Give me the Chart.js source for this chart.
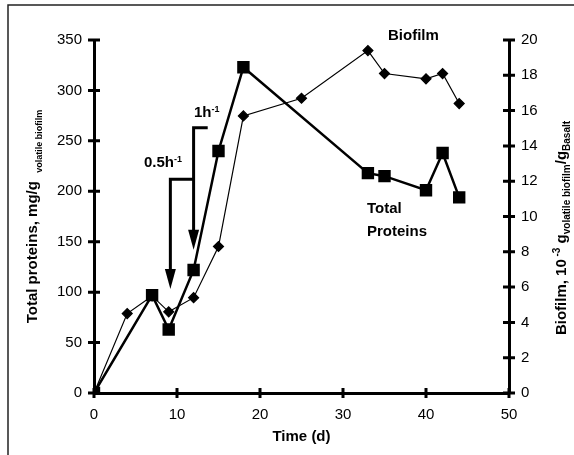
<!DOCTYPE html>
<html>
<head>
<meta charset="utf-8">
<script src="https://cdn.jsdelivr.net/npm/chart.js@4.4.0/dist/chart.umd.min.js"></script>
<style>
html, body { margin: 0; padding: 0; background: #fff; }
</style>
</head>
<body>
<canvas id="myChart" width="574" height="455"></canvas>
<script>
// data
const proteinDays = [0, 7, 9, 12, 15, 18, 33, 35, 40, 42, 44];
const proteinValues = [0, 97, 63, 122, 240, 323, 218, 215, 201, 238, 194];
const biofilmDays = [0, 4, 7, 9, 12, 15, 18, 25, 33, 35, 40, 42, 44];
const biofilmValues = [0, 4.5, 5.5, 4.6, 5.4, 8.3, 15.7, 16.7, 19.4, 18.1, 17.8, 18.1, 16.4];

// dilution rate arrows (x in days, y on protein axis)
const arrowLabels = ['0.5h', '1h'];
const arrowDays = [9.2, 12];
const arrowTops = [212, 263];
const arrowTips = [103, 142];
const arrowHookEnds = [12, 13.7];
const arrowLabelDays = [10.6, 12.05];
const arrowLabelValues = [229, 279];

const FONT = '"Liberation Sans", Arial, sans-serif';

function drawRich(ctx, x, y, parts, rotate) {
    ctx.save();
    ctx.translate(x, y);
    if (rotate) ctx.rotate(-Math.PI / 2);
    ctx.textBaseline = 'alphabetic';
    ctx.textAlign = 'left';
    let total = 0;
    parts.forEach(p => { ctx.font = p.font; total += ctx.measureText(p.text).width; });
    let cx = rotate ? -total / 2 : 0;
    parts.forEach(p => {
        ctx.font = p.font;
        ctx.fillText(p.text, cx, p.dy || 0);
        cx += ctx.measureText(p.text).width;
    });
    ctx.restore();
}

const decorations = {
    id: 'decorations',
    afterDraw(chart) {
        const ctx = chart.ctx;
        const xs = chart.scales.x, ys = chart.scales.y, y2 = chart.scales.y2;
        const area = chart.chartArea;
        ctx.save();
        ctx.fillStyle = '#000';
        ctx.strokeStyle = '#000';

        // frame around the figure
        ctx.lineWidth = 1.5;
        ctx.strokeStyle = '#222';
        ctx.beginPath();
        ctx.moveTo(8, 455);
        ctx.lineTo(8, 5);
        ctx.lineTo(574, 5);
        ctx.stroke();
        ctx.strokeStyle = '#000';

        // tick marks crossing the axes
        ctx.lineWidth = 3;
        ctx.beginPath();
        xs.ticks.forEach(t => {
            const px = xs.getPixelForValue(t.value);
            ctx.moveTo(px, area.bottom - 5);
            ctx.lineTo(px, area.bottom + 5);
        });
        ys.ticks.forEach(t => {
            const py = ys.getPixelForValue(t.value);
            ctx.moveTo(area.left - 6, py);
            ctx.lineTo(area.left + 6, py);
        });
        y2.ticks.forEach(t => {
            const py = y2.getPixelForValue(t.value);
            ctx.moveTo(area.right - 6, py);
            ctx.lineTo(area.right + 6, py);
        });
        ctx.stroke();

        // arrows
        for (let i = 0; i < arrowDays.length; i++) {
            const ax = xs.getPixelForValue(arrowDays[i]);
            const top = ys.getPixelForValue(arrowTops[i]);
            const tip = ys.getPixelForValue(arrowTips[i]);
            const hook = xs.getPixelForValue(arrowHookEnds[i]);
            ctx.lineWidth = 3;
            ctx.beginPath();
            ctx.moveTo(hook, top);
            ctx.lineTo(ax, top);
            ctx.lineTo(ax, tip - 18);
            ctx.stroke();
            ctx.beginPath();
            ctx.moveTo(ax - 5.5, tip - 20);
            ctx.lineTo(ax + 5.5, tip - 20);
            ctx.lineTo(ax, tip);
            ctx.closePath();
            ctx.fill();
        }

        // arrow labels
        const l0 = [{ text: arrowLabels[0], font: 'bold 15px ' + FONT }, { text: '-1', font: 'bold 9px ' + FONT, dy: -5 }];
        ctx.font = 'bold 15px ' + FONT;
        let w0 = ctx.measureText(arrowLabels[0]).width;
        ctx.font = 'bold 9px ' + FONT;
        w0 += ctx.measureText('-1').width;
        drawRich(ctx, xs.getPixelForValue(arrowLabelDays[0]) - w0, ys.getPixelForValue(arrowLabelValues[0]) + 5, l0, false);
        drawRich(ctx, xs.getPixelForValue(arrowLabelDays[1]), ys.getPixelForValue(arrowLabelValues[1]) + 5,
            [{ text: arrowLabels[1], font: 'bold 15px ' + FONT }, { text: '-1', font: 'bold 9px ' + FONT, dy: -5 }], false);

        // series labels
        ctx.font = 'bold 15px ' + FONT;
        ctx.textAlign = 'left';
        ctx.textBaseline = 'alphabetic';
        ctx.fillText('Biofilm', 388, 40);
        ctx.fillText('Total', 367, 213);
        ctx.fillText('Proteins', 367, 236);

        // x axis title
        ctx.textAlign = 'center';
        ctx.fillText('Time (d)', (area.left + area.right) / 2, 441);

        // y axis titles
        drawRich(ctx, 37, (area.top + area.bottom) / 2, [
            { text: 'Total proteins, mg/g  ', font: 'bold 15px ' + FONT },
            { text: 'volatile biofilm', font: 'bold 9px ' + FONT, dy: 5 }
        ], true);
        drawRich(ctx, 566, 228, [
            { text: 'Biofilm, 10', font: 'bold 15px ' + FONT },
            { text: ' -3', font: 'bold 10px ' + FONT, dy: -6 },
            { text: ' g', font: 'bold 15px ' + FONT },
            { text: 'volatile biofilm', font: 'bold 10px ' + FONT, dy: 4 },
            { text: '/g', font: 'bold 15px ' + FONT },
            { text: 'Basalt', font: 'bold 10px ' + FONT, dy: 4 }
        ], true);
        ctx.restore();
    }
};

const ctx = document.getElementById('myChart').getContext('2d');
new Chart(ctx, {
    type: 'line',
    data: {
        datasets: [{
            label: 'Total Proteins',
            data: proteinDays.map((d, i) => ({ x: d, y: proteinValues[i] })),
            yAxisID: 'y',
            borderColor: '#000',
            backgroundColor: '#000',
            borderWidth: 2.5,
            pointStyle: 'rect',
            pointRadius: 7,
            tension: 0
        }, {
            label: 'Biofilm',
            data: biofilmDays.map((d, i) => ({ x: d, y: biofilmValues[i] })),
            yAxisID: 'y2',
            borderColor: '#000',
            backgroundColor: '#000',
            borderWidth: 1.2,
            pointStyle: 'rectRot',
            pointRadius: 5,
            tension: 0
        }]
    },
    options: {
        responsive: false,
        animation: false,
        devicePixelRatio: 1,
        layout: { padding: { top: 40, left: 0, right: 0, bottom: 0 } },
        plugins: { legend: { display: false }, tooltip: { enabled: false } },
        scales: {
            x: {
                type: 'linear', min: 0, max: 50,
                ticks: { stepSize: 10, color: '#000', padding: 13, font: { family: FONT, size: 15 } },
                grid: { display: false, drawTicks: false },
                border: { display: true, color: '#000', width: 3 },
                afterFit: s => { s.height = 62; }
            },
            y: {
                position: 'left', min: 0, max: 350,
                ticks: { stepSize: 50, color: '#000', padding: 12, font: { family: FONT, size: 15 } },
                grid: { display: false, drawTicks: false },
                border: { display: true, color: '#000', width: 3 },
                afterFit: s => { s.width = 94; }
            },
            y2: {
                position: 'right', min: 0, max: 20,
                ticks: { stepSize: 2, color: '#000', padding: 12, font: { family: FONT, size: 15 } },
                grid: { display: false, drawTicks: false },
                border: { display: true, color: '#000', width: 3 },
                afterFit: s => { s.width = 65; }
            }
        }
    },
    plugins: [decorations]
});
</script>
</body>
</html>
